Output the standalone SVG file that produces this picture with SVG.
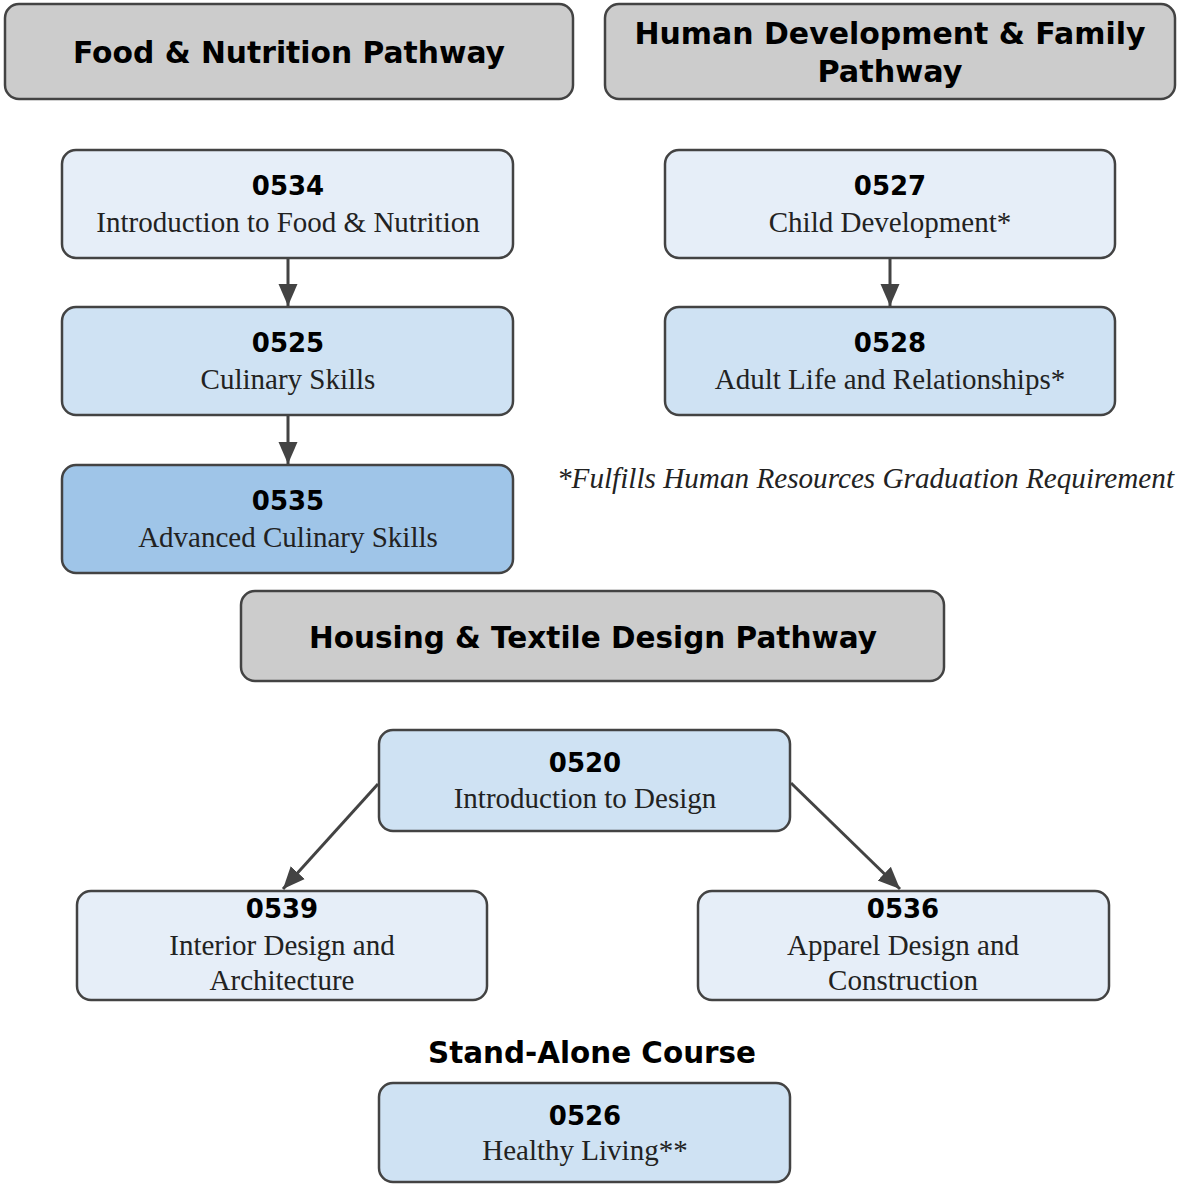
<svg xmlns="http://www.w3.org/2000/svg" width="1177" height="1184" viewBox="0 0 1177 1184">
<defs>
<style>
.hdr{fill:#cccccc;stroke:#434343;stroke-width:2.5}
.n1{fill:#e6eef8;stroke:#434343;stroke-width:2.5}
.n2{fill:#cfe2f3;stroke:#434343;stroke-width:2.5}
.n3{fill:#9fc5e8;stroke:#434343;stroke-width:2.5}
.ht{font-family:"DejaVu Sans",sans-serif;font-weight:bold;font-size:30px;fill:#000;text-anchor:middle}
.code{font-family:"DejaVu Sans",sans-serif;font-weight:bold;font-size:26px;fill:#000;text-anchor:middle}
.desc{font-family:"Liberation Serif",serif;font-size:29px;fill:#222;text-anchor:middle}
.note{font-family:"Liberation Serif",serif;font-style:italic;font-size:29px;fill:#222}
.conn{stroke:#434343;stroke-width:3;fill:none}
</style>
<marker id="ah" markerUnits="userSpaceOnUse" markerWidth="22" markerHeight="22" viewBox="0 0 22 22" refX="22" refY="11" orient="auto">
<path d="M0,1.5 L22,11 L0,20.5 Z" fill="#434343"/>
</marker>
</defs>
<rect width="1177" height="1184" fill="#ffffff"/>

<g id="hdr-food">
<rect class="hdr" x="5" y="4" width="568" height="95" rx="14"/>
<text class="ht" x="289" y="63" textLength="432" lengthAdjust="spacingAndGlyphs">Food &amp; Nutrition Pathway</text>
</g>
<g id="hdr-human">
<rect class="hdr" x="605" y="4" width="570" height="95" rx="14"/>
<text class="ht" x="890" y="44" textLength="511" lengthAdjust="spacingAndGlyphs">Human Development &amp; Family</text>
<text class="ht" x="890" y="82" textLength="145" lengthAdjust="spacingAndGlyphs">Pathway</text>
</g>

<g id="n0534">
<rect class="n1" x="62" y="150" width="451" height="108" rx="14"/>
<text class="code" x="288" y="195">0534</text>
<text class="desc" x="288" y="232">Introduction to Food &amp; Nutrition</text>
</g>
<g id="n0525">
<rect class="n2" x="62" y="307" width="451" height="108" rx="14"/>
<text class="code" x="288" y="352">0525</text>
<text class="desc" x="288" y="389">Culinary Skills</text>
</g>
<g id="n0535">
<rect class="n3" x="62" y="465" width="451" height="108" rx="14"/>
<text class="code" x="288" y="510">0535</text>
<text class="desc" x="288" y="547">Advanced Culinary Skills</text>
</g>

<g id="n0527">
<rect class="n1" x="665" y="150" width="450" height="108" rx="14"/>
<text class="code" x="890" y="195">0527</text>
<text class="desc" x="890" y="232">Child Development*</text>
</g>
<g id="n0528">
<rect class="n2" x="665" y="307" width="450" height="108" rx="14"/>
<text class="code" x="890" y="352">0528</text>
<text class="desc" x="890" y="389">Adult Life and Relationships*</text>
</g>

<g id="footnote">
<text class="note" x="557" y="488" textLength="617" lengthAdjust="spacingAndGlyphs">*Fulfills Human Resources Graduation Requirement</text>
</g>

<g id="hdr-housing">
<rect class="hdr" x="241" y="591" width="703" height="90" rx="14"/>
<text class="ht" x="593" y="648" textLength="568" lengthAdjust="spacingAndGlyphs">Housing &amp; Textile Design Pathway</text>
</g>

<g id="n0520">
<rect class="n2" x="379" y="730" width="411" height="101" rx="14"/>
<text class="code" x="585" y="772">0520</text>
<text class="desc" x="585" y="808">Introduction to Design</text>
</g>
<g id="n0539">
<rect class="n1" x="77" y="891" width="410" height="109" rx="14"/>
<text class="code" x="282" y="918">0539</text>
<text class="desc" x="282" y="955">Interior Design and</text>
<text class="desc" x="282" y="990">Architecture</text>
</g>
<g id="n0536">
<rect class="n1" x="698" y="891" width="411" height="109" rx="14"/>
<text class="code" x="903" y="918">0536</text>
<text class="desc" x="903" y="955">Apparel Design and</text>
<text class="desc" x="903" y="990">Construction</text>
</g>

<g id="standalone-label">
<text class="ht" x="592" y="1063" textLength="328" lengthAdjust="spacingAndGlyphs">Stand-Alone Course</text>
</g>
<g id="n0526">
<rect class="n2" x="379" y="1083" width="411" height="99" rx="14"/>
<text class="code" x="585" y="1125">0526</text>
<text class="desc" x="585" y="1160">Healthy Living**</text>
</g>

<g id="connectors">
<line class="conn" x1="288" y1="259" x2="288" y2="306" marker-end="url(#ah)"/>
<line class="conn" x1="288" y1="416" x2="288" y2="464" marker-end="url(#ah)"/>
<line class="conn" x1="890" y1="259" x2="890" y2="306" marker-end="url(#ah)"/>
<line class="conn" x1="378" y1="784" x2="283" y2="889" marker-end="url(#ah)"/>
<line class="conn" x1="791" y1="783" x2="900" y2="889" marker-end="url(#ah)"/>
</g>
</svg>
